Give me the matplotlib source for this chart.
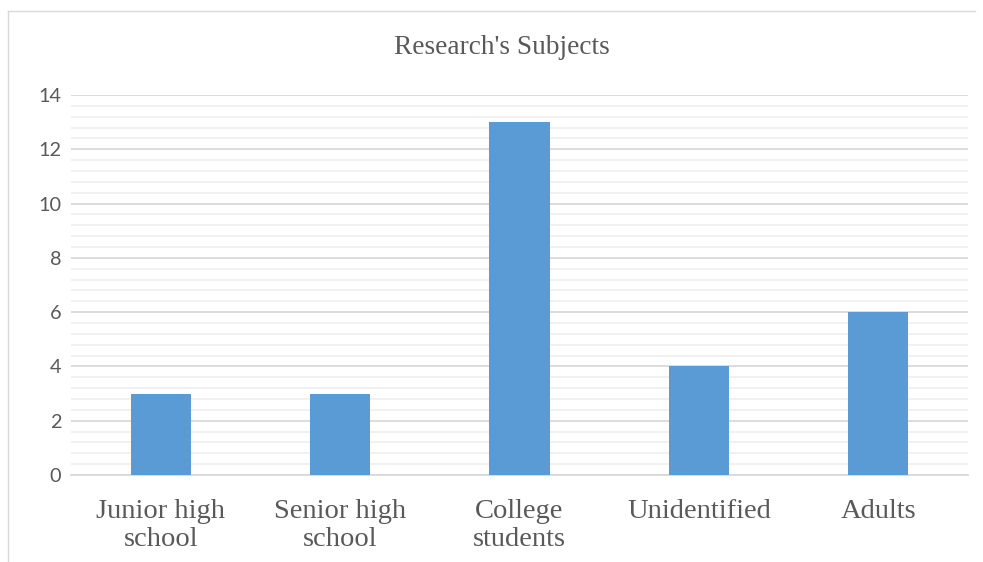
import matplotlib
matplotlib.use("Agg")
import matplotlib.pyplot as plt
from matplotlib.lines import Line2D
from matplotlib.ticker import MultipleLocator

categories = ["Junior high\nschool", "Senior high\nschool", "College\nstudents", "Unidentified", "Adults"]
values = [3, 3, 13, 4, 6]
title = "Research's Subjects"

TEXT = "#595959"
BAR = "#5B9BD5"

fig = plt.figure(figsize=(9.83, 5.62), dpi=100)
ax = fig.add_axes([71/983, 1-475/562, (968-71)/983, (475-95)/562])

x = list(range(len(categories)))
ax.bar(x, values, width=0.335, color=BAR, zorder=3)
ax.set_xlim(-0.5, len(categories) - 0.5)
ax.set_ylim(0, 14)
ax.yaxis.set_major_locator(MultipleLocator(2))
ax.yaxis.set_minor_locator(MultipleLocator(0.4))
ax.grid(axis="y", which="major", color="#D9D9D9", linewidth=1.3, zorder=0)
ax.grid(axis="y", which="minor", color="#F0F0F0", linewidth=1.3, zorder=0)
ax.set_axisbelow(True)
for s in ["top", "right", "left"]:
    ax.spines[s].set_visible(False)
ax.spines["bottom"].set_color("#D9D9D9")
ax.spines["bottom"].set_linewidth(1.3)

ax.set_xticks(x)
ax.set_xticklabels(categories, fontfamily="Liberation Serif", fontsize=20.5, color=TEXT, linespacing=1.2)
ax.tick_params(axis="x", length=0, pad=17)
ax.tick_params(axis="y", which="both", length=0, pad=7, labelsize=14.3, labelcolor=TEXT)
for lab in ax.get_yticklabels():
    lab.set_fontfamily("Lato")

fig.text(0.511, 1-48/562, title, ha="center", va="center", fontfamily="Liberation Serif",
         fontsize=19.7, color=TEXT)

# chart-area border
fig.add_artist(Line2D([8/983, 975/983], [1-11/562, 1-11/562], color="#D9D9D9", linewidth=1.0))
fig.add_artist(Line2D([8/983, 8/983], [0, 1-11/562], color="#D9D9D9", linewidth=1.0))

fig.savefig("out.png", dpi=100, facecolor="white")
